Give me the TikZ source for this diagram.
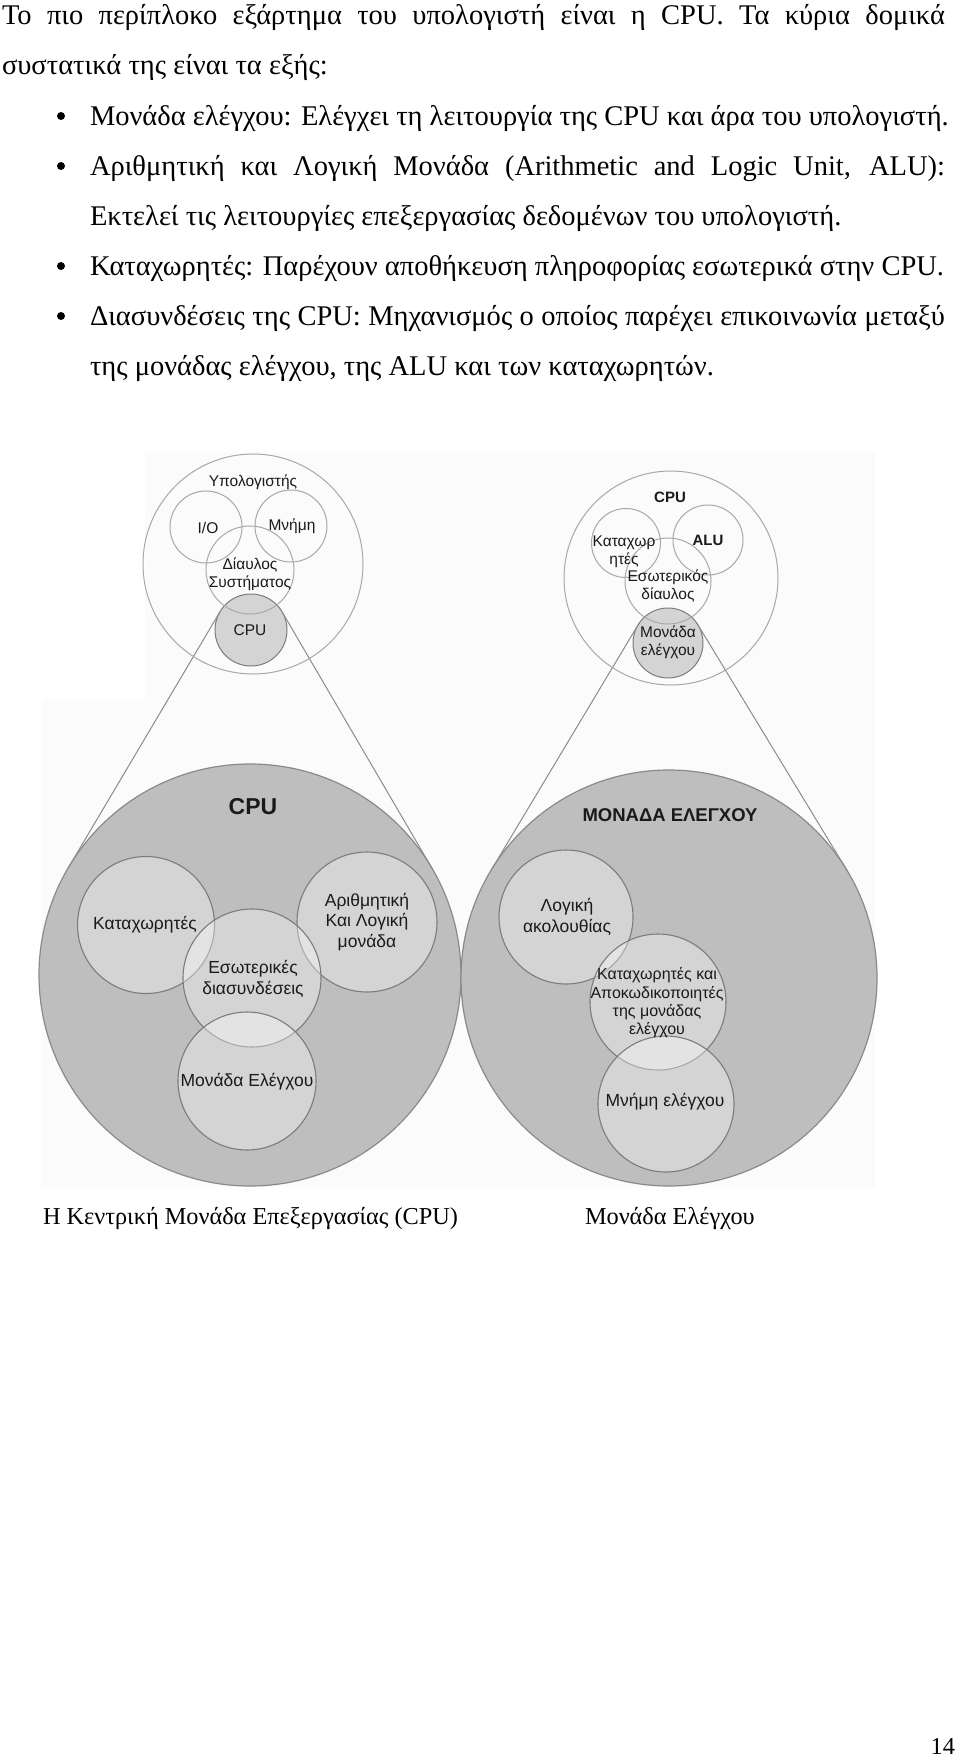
\documentclass[tikz,border=0pt]{standalone}
\usepackage{fontspec}
\setmainfont{Liberation Serif}
\newfontfamily\sansf{Liberation Sans}
\definecolor{bigfill}{HTML}{BEBEBE}
\definecolor{bigline}{HTML}{8A8A8A}
\definecolor{innerline}{HTML}{7C7C7C}
\definecolor{smallline}{HTML}{A8A8A8}
\definecolor{smallfill}{HTML}{D4D4D4}
\definecolor{connc}{HTML}{8C8C8C}
\definecolor{labelc}{HTML}{1A1A1A}
\definecolor{imgbg}{HTML}{FBFBFB}
\newcommand{\bodyf}{\fontsize{28.5}{33}\selectfont}
\newcommand{\capf}{\fontsize{24.3}{29}\selectfont}
\newcommand{\smallf}{\sansf\fontsize{15.5}{18}\selectfont}
\newcommand{\bigf}{\sansf\fontsize{17.5}{20.5}\selectfont}
\begin{document}
\begin{tikzpicture}[x=1pt,y=-1pt,
 body/.style={inner sep=0pt,outer sep=0pt,anchor=base west,font=\bodyf},
 capt/.style={body,font=\capf},
 dot/.style={circle,fill=black,inner sep=0pt,minimum size=8pt},
 ring/.style={circle,inner sep=0pt,outer sep=0pt,draw=smallline,line width=1pt},
 ringfill/.style={ring,fill=smallfill,draw=innerline},
 bigdisc/.style={circle,inner sep=0pt,outer sep=0pt,fill=bigfill,draw=bigline,line width=1.2pt},
 subdisc/.style={circle,inner sep=0pt,outer sep=0pt,fill=white,fill opacity=0.35,draw=innerline,draw opacity=1,line width=1.1pt},
 slabel/.style={inner sep=0pt,font=\smallf,text=labelc,align=center},
 blabel/.style={inner sep=0pt,font=\bigf,text=labelc,align=center},
 connect/.style={draw=connc,line width=1pt}]
\useasboundingbox (0,0) rectangle (960,1758);
\fill[white] (0,0) rectangle (960,1758);

% ---------- body text ----------
\node[body] (l1) at (2,25) {\makebox[943pt][s]{Το πιο περίπλοκο εξάρτημα του υπολογιστή είναι η CPU. Τα κύρια δομικά}};
\node[body] (l2) at (2,75) {συστατικά της είναι τα εξής:};
\node[dot] (d1) at (61,116) {};
\node[body] (l3) at (90,125) {Μονάδα ελέγχου: Ελέγχει τη λειτουργία της CPU και άρα του υπολογιστή.};
\node[dot] (d2) at (61,166) {};
\node[body] (l4) at (90,175) {\makebox[855pt][s]{Αριθμητική και Λογική Μονάδα (Arithmetic and Logic Unit, ALU):}};
\node[body] (l5) at (90,225) {Εκτελεί τις λειτουργίες επεξεργασίας δεδομένων του υπολογιστή.};
\node[dot] (d3) at (61,266) {};
\node[body] (l6) at (90,275) {Καταχωρητές: Παρέχουν αποθήκευση πληροφορίας εσωτερικά στην CPU.};
\node[dot] (d4) at (61,316) {};
\node[body] (l7) at (90,325) {\makebox[855pt][s]{Διασυνδέσεις της CPU: Μηχανισμός ο οποίος παρέχει επικοινωνία μεταξύ}};
\node[body] (l8) at (90,375) {της μονάδας ελέγχου, της ALU και των καταχωρητών.};

% ---------- image background ----------
\fill[imgbg] (145,452) rectangle (875,1187);
\fill[imgbg] (42,700) rectangle (145,1187);

% ---------- connectors ----------
\node[ringfill,minimum size=72pt] (scpu) at (251,630) {};
\node[ringfill,minimum size=70pt] (scu) at (668,643) {};
\node[bigdisc,minimum size=422pt] (bigcpu) at (250,975) {};
\node[bigdisc,minimum size=416pt] (bigcu) at (669,978) {};
\draw[connect] (scpu.150) -- (bigcpu.150);
\draw[connect] (scpu.30) -- (bigcpu.30);
\draw[connect] (scu.149) -- (bigcu.149);
\draw[connect] (scu.31) -- (bigcu.31);

% ---------- top-left: computer ----------
\node[ring,minimum size=220pt] (comp) at (253,564) {};
\node[ring,minimum size=72pt] (io) at (206,527) {};
\node[ring,minimum size=72pt] (mem) at (291,526) {};
\node[ring,minimum size=88pt] (sbus) at (250,570) {};
\node[slabel] (tcomp) at (253,482) {Υπολογιστής};
\node[slabel] (tio) at (208,528) {I/O};
\node[slabel] (tmem) at (292,526) {Μνήμη};
\node[slabel] (tbus) at (250,574) {Δίαυλος\\Συστήματος};
\node[slabel] (tscpu) at (250,630) {CPU};

% ---------- top-right: CPU ----------
\node[ring,minimum size=214pt] (cpuo) at (671,578) {};
\node[ring,minimum size=69pt] (sreg) at (626,543) {};
\node[ring,minimum size=70pt] (salu) at (708,540) {};
\node[ring,minimum size=86pt] (sibus) at (668,581) {};
\node[slabel,font=\sansf\bfseries\fontsize{15}{18}\selectfont] (tcpuo) at (670,497) {CPU};
\node[slabel] (tsreg) at (624,552) {Καταχωρ\\ητές};
\node[slabel,font=\sansf\bfseries\fontsize{15}{18}\selectfont] (tsalu) at (708,540) {ALU};
\node[slabel] (tsibus) at (668,586) {Εσωτερικός\\δίαυλος};
\node[slabel] (tscu) at (668,642) {Μονάδα\\ελέγχου};

% ---------- bottom-left: CPU ----------
\node[subdisc,minimum size=137pt] (reg) at (146,925) {};
\node[subdisc,minimum size=140pt] (alu) at (367,922) {};
\node[subdisc,minimum size=138pt] (ic) at (252,978) {};
\node[subdisc,minimum size=138pt] (cu) at (247,1081) {};
\node[blabel,font=\sansf\bfseries\fontsize{23}{27}\selectfont] (tbigcpu) at (253,807) {CPU};
\node[blabel] (treg) at (145,925) {Καταχωρητές};
\node[blabel] (talu) at (367,922) {Αριθμητική\\Και Λογική\\μονάδα};
\node[blabel] (tic) at (253,979) {Εσωτερικές\\διασυνδέσεις};
\node[blabel] (tcu) at (247,1082) {Μονάδα Ελέγχου};

% ---------- bottom-right: control unit ----------
\node[subdisc,minimum size=134pt] (seq) at (566,917) {};
\node[subdisc,minimum size=136pt] (regdec) at (658,1002) {};
\node[subdisc,minimum size=136pt] (cmem) at (666,1104) {};
\node[blabel,font=\sansf\bfseries\fontsize{18.5}{22}\selectfont] (tbigcu) at (670,815) {ΜΟΝΑΔΑ ΕΛΕΓΧΟΥ};
\node[blabel] (tseq) at (567,917) {Λογική\\ακολουθίας};
\node[blabel,font=\sansf\fontsize{16}{18.3}\selectfont] (tregdec) at (657,1003) {Καταχωρητές και\\Αποκωδικοποιητές\\της μονάδας\\ελέγχου};
\node[blabel] (tcmem) at (665,1102) {Μνήμη ελέγχου};

% ---------- captions ----------
\node[capt] (cap1) at (43,1224) {Η Κεντρική Μονάδα Επεξεργασίας (CPU)};
\node[capt] (cap2) at (585,1224) {Μονάδα Ελέγχου};
\node[capt,anchor=base east] (pno) at (955,1754) {14};
\end{tikzpicture}
\end{document}
